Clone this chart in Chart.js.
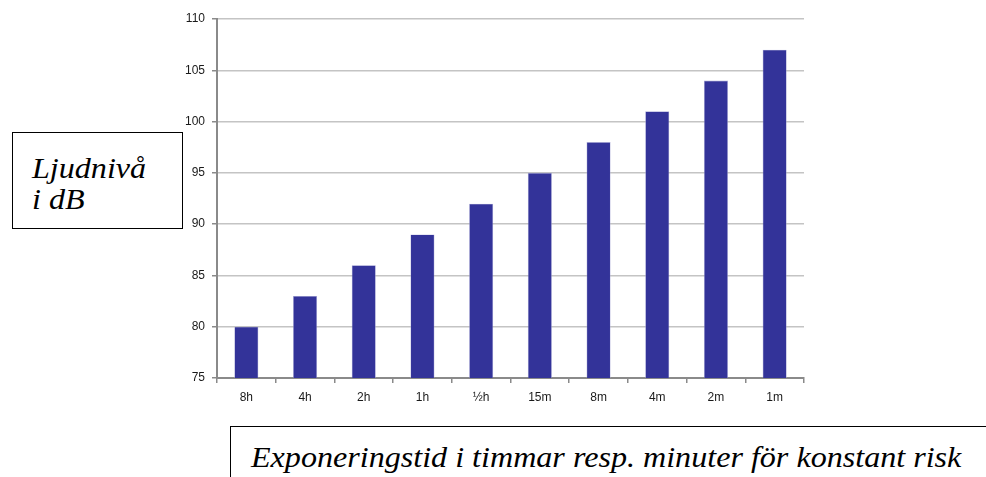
<!DOCTYPE html>
<html>
<head>
<meta charset="utf-8">
<script src="https://cdn.jsdelivr.net/npm/chart.js@4/dist/chart.umd.min.js"></script>
<style>
  html, body { margin: 0; padding: 0; background: #fff; overflow: hidden; }
  #wrap { position: relative; width: 986px; height: 477px; }
  #c { position: absolute; left: 0; top: 0; }
  .box { position: absolute; border: 1.5px solid #000; background: #fff; box-sizing: border-box; }
  .lbl { position: absolute; font-family: "Liberation Serif", "Times New Roman", serif; font-style: italic;
         font-size: 30px; line-height: 31px; color: #000; white-space: nowrap; transform-origin: 0 0; transform: scaleX(1.07); }
</style>
</head>
<body>
<div id="wrap">
  <canvas id="c" width="986" height="477"></canvas>
  <div class="box" style="left:12px; top:132px; width:171px; height:97px;">
    <div class="lbl" style="left:19px; top:19px;">Ljudnivå</div>
    <div class="lbl" style="left:19px; top:50px;">i dB</div>
  </div>
  <div class="box" style="left:230px; top:426px; width:800px; height:80px;">
    <div class="lbl" style="left:20px; top:14px;">Exponeringstid i timmar resp. minuter för konstant risk</div>
  </div>
</div>
<script>
// Exposure time per step and the sound level allowed for the same risk
const categories = ['8h', '4h', '2h', '1h', '½h', '15m', '8m', '4m', '2m', '1m'];
const soundLevelDb = [80, 83, 86, 89, 92, 95, 98, 101, 104, 107];
const yTicks = [75, 80, 85, 90, 95, 100, 105, 110];

const axisGray = '#8a8a8a';
const gridGray = '#c4c4c4';

new Chart(document.getElementById('c'), {
  type: 'bar',
  data: {
    labels: categories,
    datasets: [{
      data: soundLevelDb,
      backgroundColor: '#333399',
      borderColor: '#a9a9d6',
      borderWidth: 0.6,
      barPercentage: 0.41,
      categoryPercentage: 1.0
    }]
  },
  options: {
    responsive: false,
    animation: false,
    devicePixelRatio: 1,
    layout: { padding: { left: 0, right: 182, top: 19, bottom: 0 } },
    plugins: { legend: { display: false }, tooltip: { enabled: false } },
    scales: {
      x: {
        offset: true,
        grid: {
          offset: true,
          drawOnChartArea: false,
          drawTicks: true,
          tickLength: 5,
          color: axisGray,
          lineWidth: 1.5
        },
        border: { color: axisGray, width: 2 },
        ticks: {
          color: '#1a1a1a',
          font: { family: 'Liberation Sans, Arial, sans-serif', size: 12 },
          padding: 7,
          maxRotation: 0,
          autoSkip: false
        },
        afterFit(scale) { scale.height = 99; }
      },
      y: {
        min: 75,
        max: 110,
        afterBuildTicks(scale) { scale.ticks = yTicks.map(v => ({ value: v })); },
        grid: {
          color: gridGray,
          lineWidth: 1.5,
          drawTicks: true,
          tickLength: 5,
          tickColor: axisGray
        },
        border: { color: axisGray, width: 2 },
        ticks: {
          color: '#1a1a1a',
          font: { family: 'Liberation Sans, Arial, sans-serif', size: 12 },
          padding: 7
        },
        afterFit(scale) { scale.width = 217; }
      }
    }
  }
});
</script>
</body>
</html>
